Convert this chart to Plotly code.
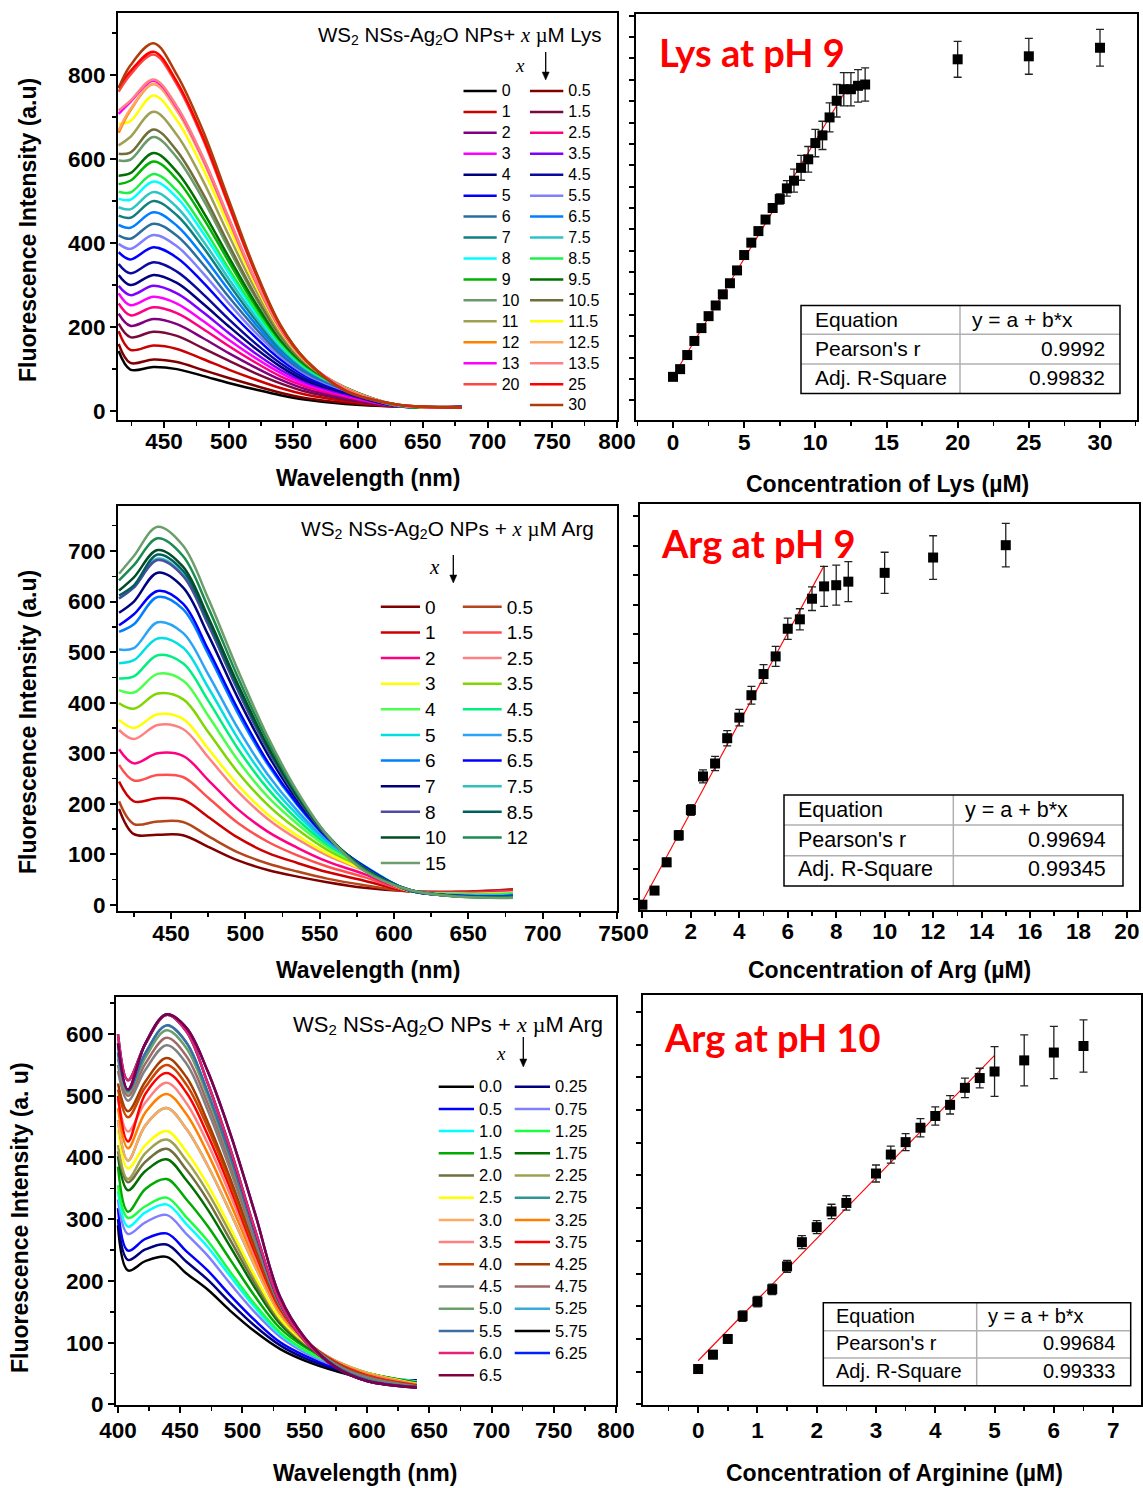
import numpy as np
import plotly.graph_objects as go

W, H = 1143, 1488
def px(v): return v / W
def py(v): return 1 - v / H

# ---------------- Panel A: WS2 NSs-Ag2O NPs + x uM Lys (spectra) ----------------
lys_wavelength = [415, 424, 442, 460, 480, 500, 520, 540, 560, 590, 630, 680]
lys_labels = ["0", "0.5", "1", "1.5", "2", "2.5", "3", "3.5", "4", "4.5", "5", "5.5", "6", "6.5",
              "7", "7.5", "8", "8.5", "9", "9.5", "10", "10.5", "11", "11.5", "12", "12.5", "13",
              "13.5", "20", "25", "30"]
lys_left_column = ["0", "1", "2", "3", "4", "5", "6", "7", "8", "9", "10", "11", "12", "13", "20"]
lys_colors = ["#000000", "#800000", "#CC0000", "#7A0A3C", "#800080", "#FF0080", "#FF00FF", "#8000FF",
              "#000080", "#0A0AA0", "#0000FF", "#8080FF", "#2A6E9E", "#0080FF", "#0F7F7F", "#2EC4C4",
              "#00FFFF", "#1EF04A", "#00B400", "#007000", "#6A9A6A", "#6F6F3B", "#A0A055", "#FFFF00",
              "#FF8000", "#FFA860", "#FF00FF", "#FF8080", "#FF4444", "#FF0000", "#B03C0A"]
lys_intensity = [
    [143, 99, 105, 100, 84, 67, 52, 38, 27, 17, 11, 10],
    [160, 115, 123, 117, 98, 79, 61, 44, 31, 20, 11, 10],
    [190, 146, 156, 148, 124, 99, 76, 55, 39, 24, 11, 10],
    [208, 176, 189, 179, 150, 120, 91, 66, 46, 28, 12, 10],
    [232, 203, 219, 207, 174, 138, 105, 75, 52, 32, 12, 10],
    [256, 228, 247, 233, 196, 155, 117, 83, 58, 35, 12, 10],
    [280, 252, 272, 256, 215, 170, 128, 91, 63, 38, 12, 10],
    [298, 276, 298, 280, 236, 186, 139, 98, 68, 40, 12, 10],
    [324, 300, 324, 305, 256, 202, 151, 106, 72, 43, 12, 10],
    [350, 328, 354, 332, 279, 219, 163, 114, 77, 45, 13, 10],
    [378, 361, 390, 365, 307, 240, 178, 123, 83, 48, 13, 10],
    [398, 386, 419, 392, 329, 257, 189, 130, 87, 49, 13, 10],
    [418, 410, 446, 417, 350, 272, 200, 136, 91, 51, 13, 10],
    [443, 436, 473, 441, 370, 288, 210, 142, 95, 53, 13, 10],
    [465, 460, 500, 466, 391, 303, 220, 148, 98, 54, 14, 9],
    [485, 480, 521, 485, 406, 315, 228, 153, 100, 54, 14, 9],
    [505, 503, 546, 508, 425, 329, 237, 158, 103, 55, 14, 9],
    [522, 520, 564, 524, 439, 339, 244, 161, 104, 55, 14, 9],
    [540, 548, 594, 551, 461, 356, 254, 167, 107, 56, 14, 9],
    [560, 566, 614, 569, 476, 367, 261, 170, 109, 56, 14, 9],
    [596, 598, 652, 603, 505, 387, 274, 177, 112, 56, 15, 9],
    [612, 615, 670, 619, 518, 397, 279, 180, 113, 56, 15, 9],
    [632, 652, 712, 657, 549, 419, 293, 186, 115, 56, 15, 9],
    [683, 690, 751, 692, 578, 439, 305, 192, 117, 54, 15, 9],
    [662, 715, 778, 715, 598, 454, 313, 195, 118, 53, 15, 9],
    [668, 718, 778, 716, 599, 455, 314, 196, 119, 53, 15, 9],
    [707, 735, 786, 722, 603, 458, 315, 196, 119, 53, 15, 9],
    [715, 738, 789, 725, 605, 460, 316, 197, 119, 53, 15, 9],
    [760, 800, 848, 777, 648, 489, 333, 202, 120, 50, 16, 9],
    [770, 808, 855, 783, 653, 493, 336, 203, 120, 49, 16, 9],
    [768, 822, 875, 800, 668, 503, 340, 205, 120, 48, 16, 9],
]

# ---------------- Panel B: Lys at pH 9 (calibration) ----------------
lys_conc = [0, 0.5, 1, 1.5, 2, 2.5, 3, 3.5, 4, 4.5, 5, 5.5, 6, 6.5, 7, 7.5, 8, 8.5, 9, 9.5,
            10, 10.5, 11, 11.5, 12, 12.5, 13, 13.5, 20, 25, 30]
lys_peak = [105, 123, 156, 189, 219, 247, 272, 298, 324, 354, 390, 419, 446, 473, 500, 521, 546,
            564, 594, 614, 652, 670, 712, 751, 778, 778, 786, 789, 848, 855, 875]
lys_err = [8, 8, 8, 8, 8, 8, 8, 8, 8, 8, 8, 8, 8, 9, 10, 12, 18, 27, 29, 30, 32, 33, 34, 38, 39,
           39, 38, 39, 42, 42, 43]
lys_fit_limit = 12

# ---------------- Panel C: WS2 NSs-Ag2O NPs + x uM Arg, pH 9 (spectra) ----------------
arg9_wavelength = [415, 425, 441, 458, 475, 495, 515, 535, 555, 580, 610, 645, 680]
arg9_labels = ["0", "0.5", "1", "1.5", "2", "2.5", "3", "3.5", "4", "4.5", "5", "5.5", "6", "6.5",
               "7", "7.5", "8", "8.5", "10", "12", "15"]
arg9_left_column = ["0", "1", "2", "3", "4", "5", "6", "7", "8", "10", "15"]
arg9_colors = ["#800000", "#B5451B", "#CC0000", "#FF5050", "#FF0080", "#FF8080", "#FFFF00", "#7FD600",
               "#4CFF4C", "#00F080", "#00E0E0", "#2AA5F5", "#0080FF", "#0000FF", "#000080", "#30C0C0",
               "#4B4BA0", "#005F5F", "#004D26", "#1A8C50", "#6B9E6B"]
arg9_intensity = [
    [190, 140, 139, 138, 115, 88, 69, 56, 45, 34, 27, 26, 31],
    [205, 160, 165, 164, 136, 104, 82, 66, 52, 39, 27, 26, 30],
    [244, 205, 211, 208, 174, 133, 103, 83, 65, 48, 27, 25, 29],
    [277, 246, 257, 253, 212, 162, 125, 98, 76, 55, 28, 24, 28],
    [308, 280, 300, 295, 247, 189, 145, 113, 86, 61, 28, 23, 27],
    [346, 328, 356, 348, 292, 224, 170, 130, 98, 68, 28, 22, 25],
    [366, 350, 377, 368, 309, 237, 179, 137, 102, 69, 28, 22, 24],
    [399, 388, 418, 407, 342, 262, 198, 149, 109, 73, 28, 21, 23],
    [425, 420, 457, 444, 374, 286, 214, 160, 115, 75, 29, 21, 22],
    [448, 452, 494, 478, 404, 309, 230, 169, 120, 77, 29, 20, 21],
    [478, 484, 527, 509, 430, 329, 244, 178, 124, 77, 29, 20, 20],
    [505, 508, 559, 538, 456, 349, 258, 186, 127, 77, 29, 19, 19],
    [540, 555, 609, 585, 496, 379, 278, 197, 132, 76, 29, 18, 18],
    [553, 575, 621, 596, 505, 387, 283, 200, 133, 76, 29, 18, 18],
    [578, 600, 657, 628, 534, 409, 298, 207, 135, 74, 30, 17, 17],
    [606, 628, 685, 654, 556, 426, 308, 213, 136, 73, 30, 17, 16],
    [606, 628, 682, 651, 554, 424, 307, 212, 136, 72, 30, 17, 16],
    [612, 632, 693, 661, 563, 430, 312, 214, 137, 72, 30, 17, 16],
    [622, 648, 702, 669, 569, 436, 315, 216, 138, 72, 30, 17, 15],
    [642, 672, 725, 690, 588, 450, 324, 220, 138, 70, 30, 16, 15],
    [655, 690, 748, 711, 606, 464, 333, 224, 138, 67, 30, 16, 14],
]

# ---------------- Panel D: Arg at pH 9 (calibration) ----------------
arg9_conc = [0, 0.5, 1, 1.5, 2, 2.5, 3, 3.5, 4, 4.5, 5, 5.5, 6, 6.5, 7, 7.5, 8, 8.5, 10, 12, 15]
arg9_peak = [140, 164, 212, 258, 301, 358, 380, 423, 458, 496, 532, 562, 609, 625, 660, 681, 683,
             689, 704, 730, 751]
arg9_err = [6, 6, 7, 8, 9, 11, 12, 13, 14, 15, 16, 17, 18, 18, 20, 34, 34, 34, 35, 37, 37]
arg9_fit_limit = 7
arg9_fit_end = 7.5

# ---------------- Panel E: WS2 NSs-Ag2O NPs + x uM Arg, pH 10 (spectra) ----------------
arg10_wavelength = [400, 408, 422, 439, 455, 472, 490, 510, 530, 550, 575, 600, 640]
arg10_labels = ["0.0", "0.25", "0.5", "0.75", "1.0", "1.25", "1.5", "1.75", "2.0", "2.25", "2.5",
                "2.75", "3.0", "3.25", "3.5", "3.75", "4.0", "4.25", "4.5", "4.75", "5.0", "5.25",
                "5.5", "5.75", "6.0", "6.25", "6.5"]
arg10_left_column = ["0.0", "0.5", "1.0", "1.5", "2.0", "2.5", "3.0", "3.5", "4.0", "4.5", "5.0",
                     "5.5", "6.0", "6.5"]
arg10_colors = ["#000000", "#000080", "#0000FF", "#8080FF", "#00FFFF", "#1AFF40", "#00AA00", "#006F00",
                "#707040", "#A0A055", "#FFFF00", "#2E9494", "#FFAA60", "#FF8000", "#FF8080", "#FF0000",
                "#CC4400", "#A53C00", "#808080", "#A06868", "#6B9E6B", "#3AAAD8", "#3C6E9E", "#000000",
                "#E6217A", "#0020FF", "#800040"]
arg10_intensity = [
    [290, 217, 232, 239, 212, 186, 152, 118, 90, 71, 54, 42, 39],
    [300, 234, 251, 259, 231, 202, 165, 127, 96, 75, 57, 44, 38],
    [318, 249, 268, 277, 248, 217, 177, 136, 101, 79, 59, 46, 38],
    [332, 276, 295, 307, 276, 241, 196, 149, 110, 84, 62, 48, 37],
    [345, 288, 311, 324, 292, 255, 208, 157, 114, 87, 64, 49, 37],
    [355, 302, 321, 335, 303, 265, 215, 162, 117, 88, 65, 50, 36],
    [385, 312, 349, 365, 332, 289, 235, 175, 124, 93, 67, 51, 35],
    [402, 347, 378, 397, 363, 316, 256, 189, 131, 96, 69, 51, 35],
    [410, 360, 393, 414, 380, 331, 267, 196, 135, 98, 70, 51, 34],
    [420, 365, 407, 429, 395, 344, 278, 202, 138, 100, 70, 51, 34],
    [445, 382, 420, 443, 409, 356, 287, 208, 140, 101, 70, 51, 33],
    [460, 395, 452, 480, 446, 387, 312, 224, 147, 103, 70, 50, 32],
    [460, 395, 452, 480, 446, 387, 312, 224, 147, 103, 70, 50, 32],
    [480, 415, 473, 503, 470, 407, 327, 233, 150, 104, 69, 49, 32],
    [495, 442, 489, 521, 488, 423, 340, 240, 153, 105, 69, 48, 31],
    [500, 426, 503, 537, 505, 437, 351, 246, 155, 105, 68, 47, 31],
    [510, 465, 514, 550, 518, 449, 359, 252, 157, 105, 67, 46, 30],
    [520, 475, 523, 561, 530, 458, 367, 256, 158, 105, 67, 45, 30],
    [540, 492, 542, 582, 552, 477, 381, 264, 161, 105, 65, 44, 29],
    [550, 500, 552, 594, 564, 488, 390, 268, 162, 105, 64, 42, 29],
    [560, 505, 562, 606, 577, 499, 398, 273, 163, 104, 63, 41, 29],
    [570, 508, 569, 614, 586, 506, 403, 276, 163, 104, 62, 40, 28],
    [570, 508, 569, 614, 586, 506, 403, 276, 163, 104, 62, 40, 28],
    [600, 525, 584, 631, 604, 521, 415, 283, 165, 103, 60, 38, 28],
    [600, 525, 584, 631, 604, 521, 415, 283, 165, 103, 60, 38, 28],
    [585, 510, 585, 632, 610, 540, 440, 310, 175, 108, 60, 38, 27],
    [585, 510, 585, 632, 610, 540, 440, 310, 175, 108, 60, 38, 27],
]

# ---------------- Panel F: Arg at pH 10 (calibration) ----------------
arg10_conc = [0, 0.25, 0.5, 0.75, 1, 1.25, 1.5, 1.75, 2, 2.25, 2.5, 3, 3.25, 3.5, 3.75, 4, 4.25,
              4.5, 4.75, 5, 5.5, 6, 6.5]
arg10_signal = [204, 226, 250, 285, 307, 326, 361, 398, 421, 445, 458, 503, 532, 551, 573, 591,
                608, 634, 649, 659, 676, 688, 698]
arg10_err = [6, 6, 6, 8, 8, 8, 9, 10, 10, 11, 11, 13, 13, 13, 14, 14, 14, 15, 15, 38, 39, 40, 40]
arg10_fit_limit = 5

# fit table texts
fit_tables = {
    "B": ["0.9992", "0.99832"],
    "D": ["0.99694", "0.99345"],
    "F": ["0.99684", "0.99333"],
}

fig = go.Figure()

def add_spectra(wl, labels, colors, data, left_set, xa, ya, leg_l, leg_r, fs):
    for lab, col, vals in zip(labels, colors, data):
        fig.add_trace(go.Scatter(
            x=wl, y=vals, mode="lines",
            line=dict(color=col, width=2.5, shape="spline", smoothing=1.0),
            name=f'<span style="font-size:{fs}px">{lab}</span>',
            legend=leg_l if lab in left_set else leg_r,
            xaxis=xa, yaxis=ya, hoverinfo="skip"))

add_spectra(lys_wavelength, lys_labels, lys_colors, lys_intensity, lys_left_column,
            "x", "y", "legend", "legend2", 16)
add_spectra(arg9_wavelength, arg9_labels, arg9_colors, arg9_intensity, arg9_left_column,
            "x3", "y3", "legend3", "legend4", 19)
add_spectra(arg10_wavelength, arg10_labels, arg10_colors, arg10_intensity, arg10_left_column,
            "x5", "y5", "legend5", "legend6", 16.5)

def add_calibration(conc, vals, errs, fit_limit, fit_end, xa, ya):
    c = np.array(conc, dtype=float)
    v = np.array(vals, dtype=float)
    m = c <= fit_limit
    slope, icpt = np.polyfit(c[m], v[m], 1)
    xs = np.array([0.0, fit_end])
    fig.add_trace(go.Scatter(x=xs, y=icpt + slope * xs, mode="lines",
                             line=dict(color="#FF0000", width=1.1), showlegend=False,
                             xaxis=xa, yaxis=ya, hoverinfo="skip"))
    fig.add_trace(go.Scatter(x=conc, y=vals, mode="markers",
                             marker=dict(symbol="square", size=10, color="black"),
                             error_y=dict(type="data", array=errs, color="#222222",
                                          thickness=1.3, width=4),
                             showlegend=False, xaxis=xa, yaxis=ya, hoverinfo="skip"))

add_calibration(lys_conc, lys_peak, lys_err, lys_fit_limit, lys_fit_limit, "x2", "y2")
add_calibration(arg9_conc, arg9_peak, arg9_err, arg9_fit_limit, arg9_fit_end, "x4", "y4")
add_calibration(arg10_conc, arg10_signal, arg10_err, arg10_fit_limit, arg10_fit_limit, "x6", "y6")

TICKFONT = dict(family="Liberation Sans", size=22.5, color="black", weight="bold")

def axis(dom, rng, dtick, minor_dtick=None, labels=True, anchor=None, ticklen=6, tick0=0,
         standoff=0):
    d = dict(domain=dom, range=rng, dtick=dtick, tick0=tick0, showline=True, linecolor="black",
             linewidth=2, mirror=True, ticks="outside", ticklen=ticklen, tickwidth=2,
             tickcolor="black", showgrid=False, zeroline=False, showticklabels=labels,
             tickfont=TICKFONT, anchor=anchor, fixedrange=True, ticklabelstandoff=standoff)
    if minor_dtick:
        d["minor"] = dict(ticks="outside", ticklen=4, tickwidth=1.5, tickcolor="black",
                          dtick=minor_dtick, tick0=tick0, showgrid=False)
    return d

def xdom(a, b): return [px(a), px(b)]
def ydom(top, bottom): return [py(bottom), py(top)]

layout_axes = dict(
    xaxis=axis(xdom(118, 617), [414.5, 800], 50, 25, anchor="y", standoff=-6),
    yaxis=axis(ydom(13, 420), [-21, 947], 200, 100, anchor="x"),
    xaxis2=axis(xdom(636, 1137), [-2.6, 32.6], 5, 2.5, anchor="y2", standoff=-5),
    yaxis2=axis(ydom(14, 420), [4, 954], 50, None, labels=False, anchor="x2", ticklen=5),
    xaxis3=axis(xdom(118, 617), [414.3, 750], 50, 25, anchor="y3", standoff=-5),
    yaxis3=axis(ydom(506, 911), [-12, 789], 100, 50, anchor="x3"),
    xaxis4=axis(xdom(640, 1139), [-0.1, 20.5], 2, 1, anchor="y4", standoff=-6),
    yaxis4=axis(ydom(504, 910), [131, 821], 50, None, labels=False, anchor="x4", ticklen=5),
    xaxis5=axis(xdom(116, 616), [398.4, 800], 50, 25, anchor="y5", standoff=-2),
    yaxis5=axis(ydom(997, 1405), [-1, 660], 100, 50, anchor="x5"),
    xaxis6=axis(xdom(643, 1141), [-0.93, 7.47], 1, 0.5, anchor="y6", standoff=-2),
    yaxis6=axis(ydom(995, 1405), [149, 776], 50, None, labels=False, anchor="x6", ticklen=5),
)

def leg(x, top, fsize, iw):
    return dict(x=px(x), y=py(top), xanchor="left", yanchor="top", bgcolor="rgba(0,0,0,0)",
                borderwidth=0, font=dict(family="Liberation Sans", size=fsize, color="black"),
                itemwidth=iw, tracegroupgap=0, orientation="v")

legends = dict(
    legend=leg(458.5, 75.5, 13.8, 33.2),
    legend2=leg(525, 75.5, 13.8, 33.3),
    legend3=leg(375.8, 589, 17.4, 39.2),
    legend4=leg(457.8, 589, 17.4, 38.9),
    legend5=leg(433.7, 1070.6, 14.77, 35.3),
    legend6=leg(509.7, 1070.6, 14.77, 35.3),
)

ann = []
shapes = []
SERIF = "Liberation Serif"
def title_text(tail, plus, size):
    sub = round(size * 0.68, 1)
    s2 = f'<span style="font-size:{sub}px;baseline-shift:-22%">2</span>'
    return (f'WS{s2} NSs-Ag{s2}O NPs' + plus +
            f'<i><span style="font-family:{SERIF};font-size:{size}px">x</span></i> '
            f'<span style="font-family:{SERIF};font-size:{size}px">µ</span>M ' + tail)

def add_ann(text, x, y, size, xanchor="center", yanchor="middle", family="Liberation Sans",
            bold=False, color="black", angle=0, italic=False):
    f = dict(family=family, size=size, color=color)
    if bold:
        f["weight"] = "bold"
    if italic:
        f["style"] = "italic"
    ann.append(dict(text=text, x=px(x), y=py(y), xref="paper", yref="paper", showarrow=False,
                    xanchor=xanchor, yanchor=yanchor, font=f, textangle=angle))

# spectra titles
add_ann(title_text("Lys", "+ ", 20.5), 603, 35, 20.5, xanchor="right")
add_ann(title_text("Arg", " + ", 20.8), 596, 529, 20.8, xanchor="right")
add_ann(title_text("Arg", " + ", 22), 605, 1025, 22, xanchor="right")
# italic x beside arrows
add_ann("x", 520, 66, 19, family=SERIF, italic=True)
add_ann("x", 434, 567, 21, family=SERIF, italic=True)
add_ann("x", 501, 1053, 19, family=SERIF, italic=True)

# downward arrows (shapes)
for (xa, ytop, yhead) in [(545.7, 52, 80), (453.3, 555, 583), (523.3, 1037, 1067)]:
    shapes.append(dict(type="line", xref="paper", yref="paper", x0=px(xa), x1=px(xa),
                       y0=py(ytop), y1=py(yhead - 6), line=dict(color="black", width=1.3)))
    path = (f"M {px(xa - 3.5)} {py(yhead - 8)} L {px(xa + 3.5)} {py(yhead - 8)} "
            f"L {px(xa)} {py(yhead)} Z")
    shapes.append(dict(type="path", xref="paper", yref="paper", path=path,
                       fillcolor="black", line=dict(color="black", width=0.5)))

# axis titles
AX = 23
add_ann("Fluorescence Intensity (a.u)", 28, 230, AX, bold=True, angle=-90)
add_ann("Wavelength (nm)", 368, 478, AX, bold=True)
add_ann("Concentration of Lys (µM)", 887, 484, AX, bold=True)
add_ann("Fluorescence Intensity (a.u)", 28, 722, AX, bold=True, angle=-90)
add_ann("Wavelength (nm)", 368, 970, AX, bold=True)
add_ann("Concentration of Arg (µM)", 889, 970, AX, bold=True)
add_ann("Fluorescence Intensity (a. u)", 20, 1218, AX, bold=True, angle=-90)
add_ann("Wavelength (nm)", 365, 1473, AX, bold=True)
add_ann("Concentration of Arginine (µM)", 894, 1473, AX, bold=True)

# red panel labels
add_ann("Lys at pH 9", 657, 52, 38, xanchor="left", family="Lato", bold=True, color="#FF0000")
add_ann("Arg at pH 9", 659, 543, 38, xanchor="left", family="Lato", bold=True, color="#FF0000")
add_ann("Arg at pH 10", 662, 1037, 38, xanchor="left", family="Lato", bold=True, color="#FF0000")

# fit result tables
def fit_table(key, x0, x1, y0, y1, xd, yl1, yl2, rowc, fs, xl, xeq, xr):
    shapes.append(dict(type="line", xref="paper", yref="paper", x0=px(xd), x1=px(xd),
                       y0=py(y0), y1=py(y1), line=dict(color="#B0B0B0", width=1.5)))
    for yy in (yl1, yl2):
        shapes.append(dict(type="line", xref="paper", yref="paper", x0=px(x0), x1=px(x1),
                           y0=py(yy), y1=py(yy), line=dict(color="#B0B0B0", width=1.5)))
    shapes.append(dict(type="rect", xref="paper", yref="paper", x0=px(x0), x1=px(x1),
                       y0=py(y1), y1=py(y0), line=dict(color="black", width=1.5),
                       fillcolor="rgba(0,0,0,0)"))
    r, adj = fit_tables[key]
    add_ann("Equation", xl, rowc[0], fs, xanchor="left")
    add_ann("y = a + b*x", xeq, rowc[0], fs, xanchor="left")
    add_ann("Pearson's r", xl, rowc[1], fs, xanchor="left")
    add_ann(r, xr, rowc[1], fs, xanchor="right")
    add_ann("Adj. R-Square", xl, rowc[2], fs, xanchor="left")
    add_ann(adj, xr, rowc[2], fs, xanchor="right")

fit_table("B", 801, 1120, 305.5, 393.5, 960, 334.3, 364, (319.5, 348.5, 377), 21, 812.5, 970, 1107)
fit_table("D", 784, 1123, 795, 886, 953.3, 825, 855.7, (810, 839.5, 869), 21.5, 795.7, 963.3, 1108.3)
fit_table("F", 823.3, 1130.7, 1302.7, 1385.7, 976.7, 1330.7, 1358, (1316, 1343, 1371), 20, 834, 986, 1117.3)

fig.update_layout(
    width=W, height=H, margin=dict(l=0, r=0, t=0, b=0, autoexpand=False),
    paper_bgcolor="white", plot_bgcolor="white",
    font=dict(family="Liberation Sans", color="black"),
    showlegend=True, annotations=ann, shapes=shapes, hovermode=False,
    **layout_axes, **legends,
)

fig.write_html("out.html", include_plotlyjs=True, full_html=True,
               config={"displayModeBar": False, "staticPlot": True})
